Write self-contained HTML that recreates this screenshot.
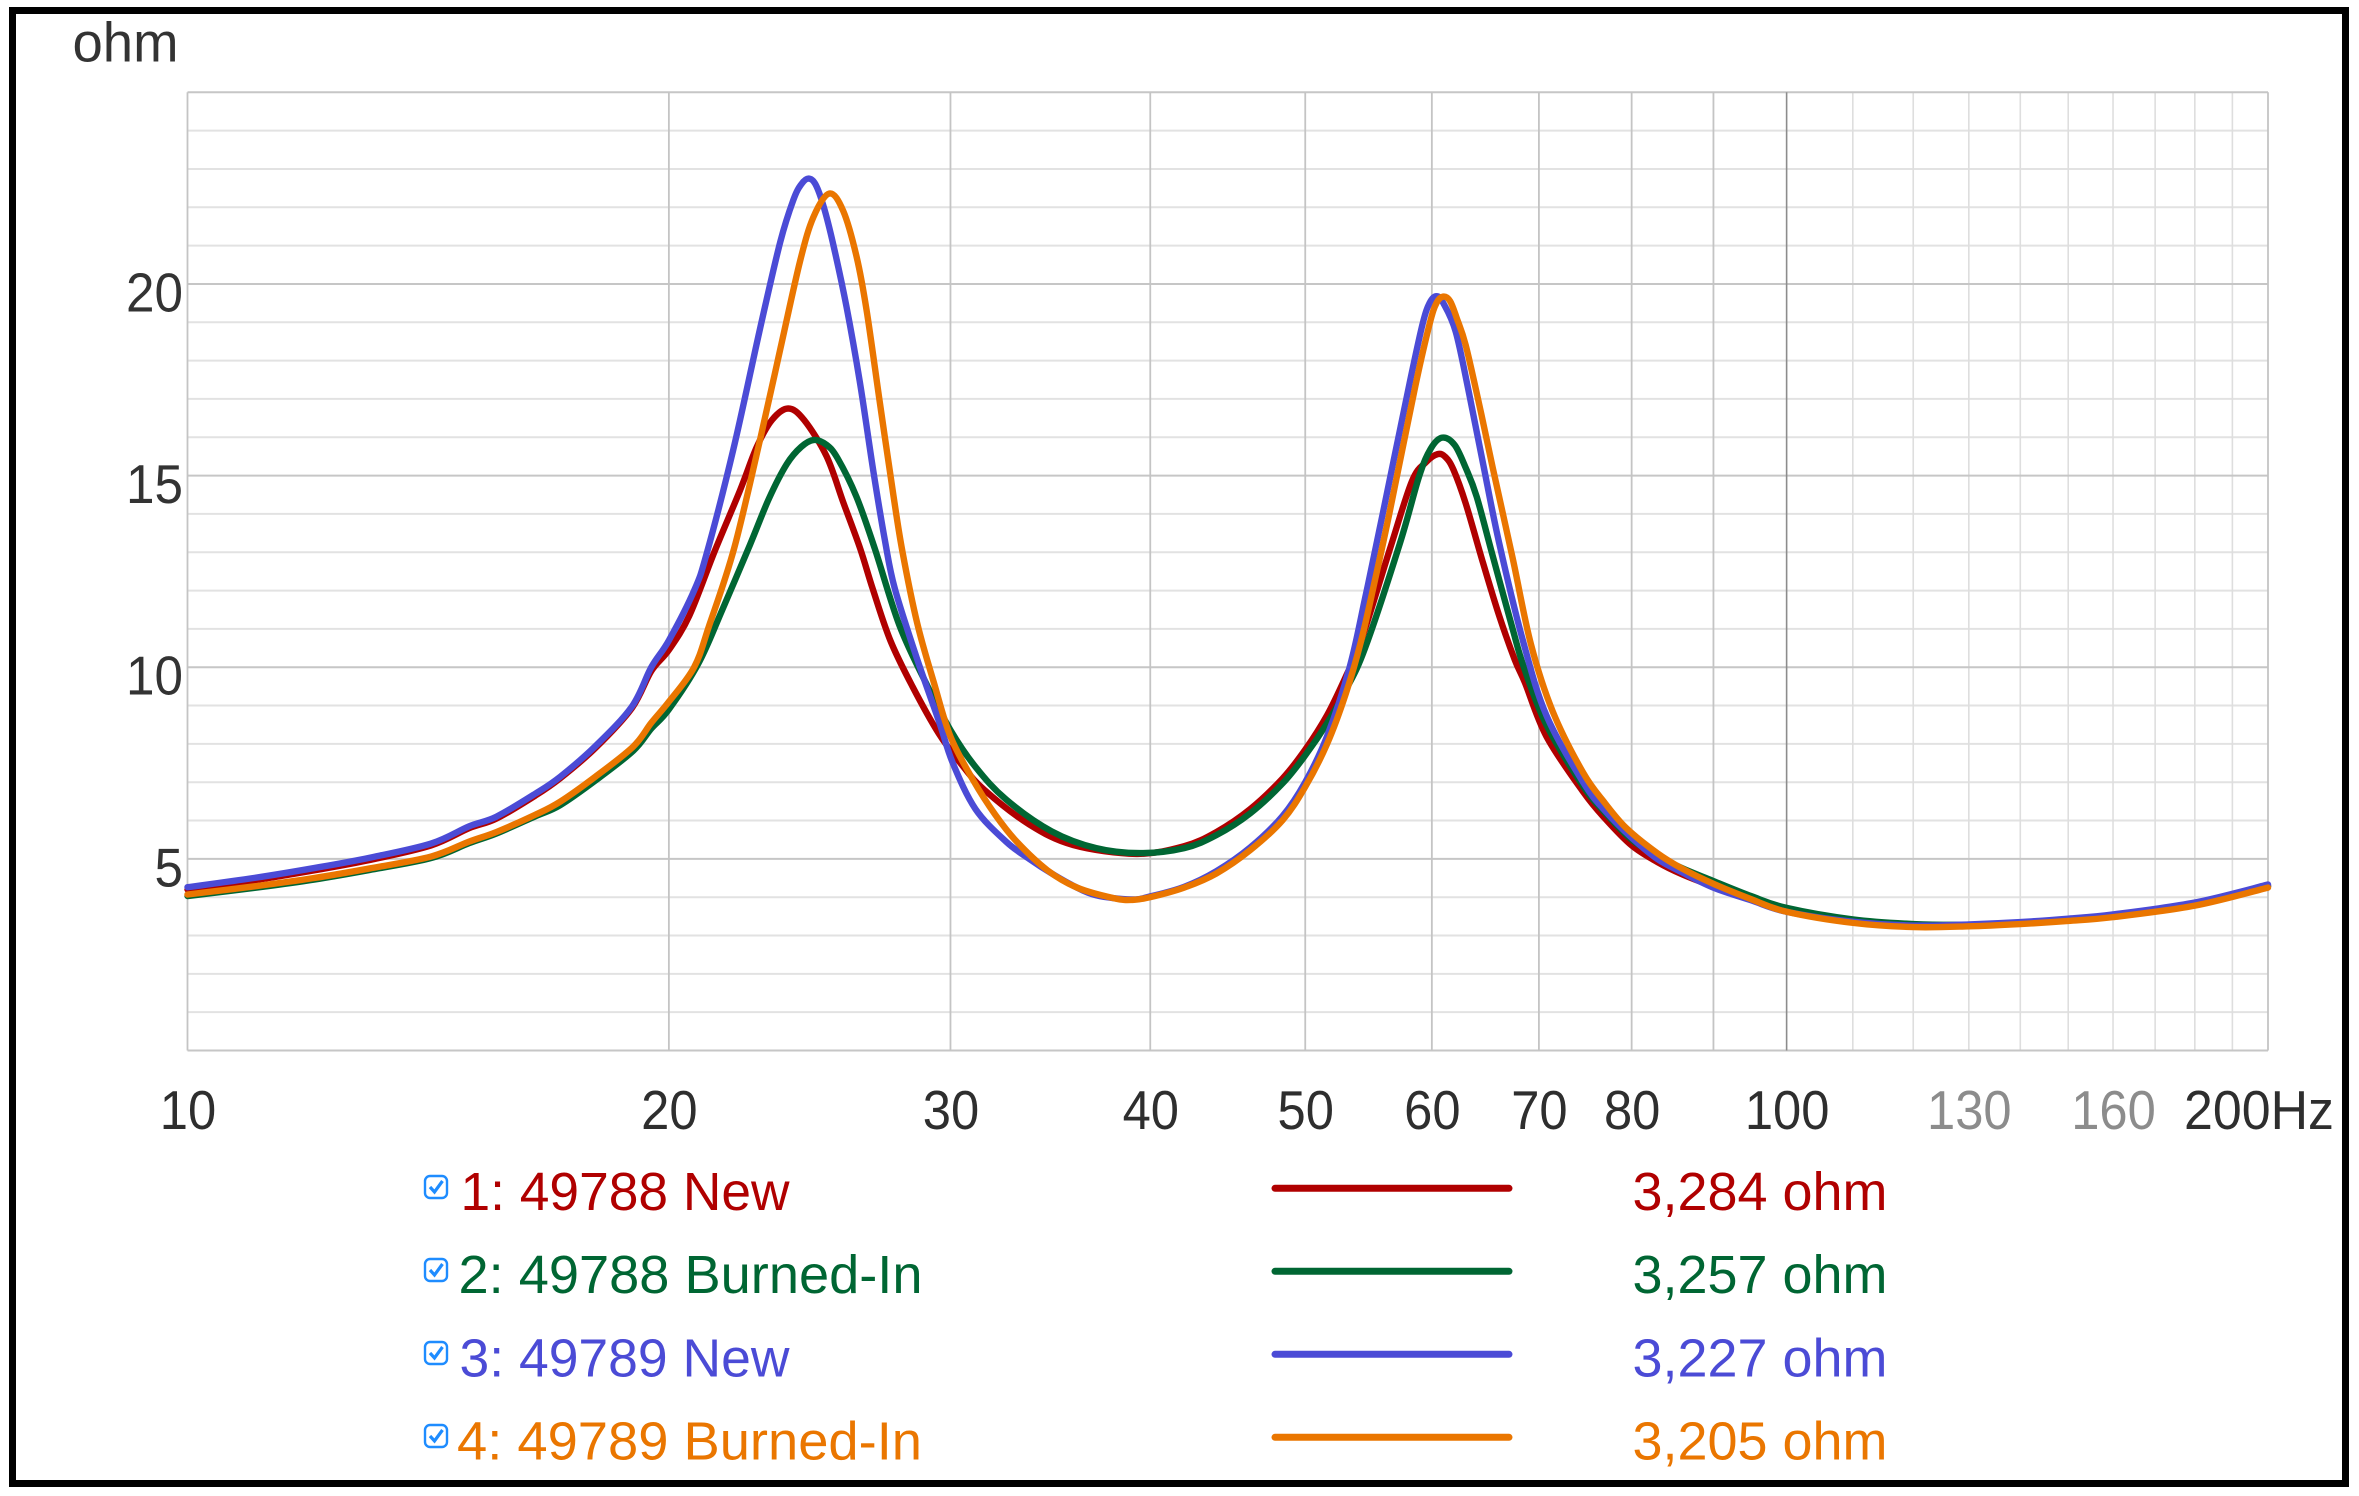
<!DOCTYPE html>
<html lang="en">
<head>
<meta charset="utf-8">
<title>Impedance chart</title>
<style>
html,body{margin:0;padding:0;background:#fff;width:2359px;height:1496px;overflow:hidden}
svg{display:block;font-family:"Liberation Sans",sans-serif}
</style>
</head>
<body>
<svg id="chart" xmlns="http://www.w3.org/2000/svg" width="2359" height="1496" viewBox="0 0 2359 1496">
  <rect x="0" y="0" width="2359" height="1496" fill="#fff"/>
  <rect x="12.5" y="10.5" width="2333" height="1473" fill="none" stroke="#000" stroke-width="7"/>
  <text x="72.5" y="61.5" font-size="56" fill="#333" textLength="106" lengthAdjust="spacingAndGlyphs">ohm</text>
  <g id="grid"></g>
  <g id="y-labels"></g>
  <g id="x-labels"></g>
  <g id="series" fill="none" stroke-width="6.4" stroke-linejoin="round" stroke-linecap="round"></g>

  <g font-size="54">
    <g>
      <g>
        <rect x="425" y="1176" width="22" height="22" rx="5" fill="#fff" stroke="#1e8cff" stroke-width="2.4"/>
        <path d="M430 1187 l4.5 5 l8 -11" fill="none" stroke="#1e8cff" stroke-width="3.2"/>
      </g>
      <text x="460.5" y="1210" fill="#b00000" textLength="329" lengthAdjust="spacingAndGlyphs">1: 49788 New</text>
      <line x1="1275" y1="1188.3" x2="1509" y2="1188.3" stroke="#b00000" stroke-width="7" stroke-linecap="round"/>
      <text x="1632.5" y="1210" fill="#b00000" textLength="255" lengthAdjust="spacingAndGlyphs">3,284 ohm</text>
    </g>
    <g>
      <g>
        <rect x="425" y="1259" width="22" height="22" rx="5" fill="#fff" stroke="#1e8cff" stroke-width="2.4"/>
        <path d="M430 1270 l4.5 5 l8 -11" fill="none" stroke="#1e8cff" stroke-width="3.2"/>
      </g>
      <text x="458.5" y="1293" fill="#006633" textLength="464" lengthAdjust="spacingAndGlyphs">2: 49788 Burned-In</text>
      <line x1="1275" y1="1271.3" x2="1509" y2="1271.3" stroke="#006633" stroke-width="7" stroke-linecap="round"/>
      <text x="1632.5" y="1293" fill="#006633" textLength="255" lengthAdjust="spacingAndGlyphs">3,257 ohm</text>
    </g>
    <g>
      <g>
        <rect x="425" y="1342" width="22" height="22" rx="5" fill="#fff" stroke="#1e8cff" stroke-width="2.4"/>
        <path d="M430 1353 l4.5 5 l8 -11" fill="none" stroke="#1e8cff" stroke-width="3.2"/>
      </g>
      <text x="459.5" y="1376.5" fill="#4b4bd6" textLength="330" lengthAdjust="spacingAndGlyphs">3: 49789 New</text>
      <line x1="1275" y1="1354.3" x2="1509" y2="1354.3" stroke="#4b4bd6" stroke-width="7" stroke-linecap="round"/>
      <text x="1632.5" y="1376.5" fill="#4b4bd6" textLength="255" lengthAdjust="spacingAndGlyphs">3,227 ohm</text>
    </g>
    <g>
      <g>
        <rect x="425" y="1425" width="22" height="22" rx="5" fill="#fff" stroke="#1e8cff" stroke-width="2.4"/>
        <path d="M430 1436 l4.5 5 l8 -11" fill="none" stroke="#1e8cff" stroke-width="3.2"/>
      </g>
      <text x="457" y="1459.3" fill="#ea7600" textLength="465" lengthAdjust="spacingAndGlyphs">4: 49789 Burned-In</text>
      <line x1="1275" y1="1437.3" x2="1509" y2="1437.3" stroke="#ea7600" stroke-width="7" stroke-linecap="round"/>
      <text x="1632.5" y="1459.3" fill="#ea7600" textLength="255" lengthAdjust="spacingAndGlyphs">3,205 ohm</text>
    </g>
  </g>
</svg>
<script>
var yMajorTicks = [0, 5, 10, 15, 20, 25];
var yMinorTicks = [1, 2, 3, 4, 6, 7, 8, 9, 11, 12, 13, 14, 16, 17, 18, 19, 21, 22, 23, 24];
var yTickLabels = [5, 10, 15, 20];
var xMajorTicks = [10, 20, 30, 40, 50, 60, 70, 80, 90];
var xDecadeTicks = [100];
var xMinorTicks = [110, 120, 130, 140, 150, 160, 170, 180, 190];
var xEndTicks = [200];
var xTickLabels = [10, 20, 30, 40, 50, 60, 70, 80, 100, 130, 160, 200];
var xMutedLabels = [130, 160];

var redFreq = [10, 11, 12, 13, 14.2, 15, 15.6, 16.5, 17.1, 18, 18.96, 19.5, 20, 20.6, 21.35, 22.16, 22.7, 23.2, 23.75, 24.3, 25.1, 25.71, 26.34, 26.82, 27.51, 28.4, 29.5, 30.5, 31.5, 33.6, 35.8, 39.2, 42, 44, 46.2, 48.4, 50, 51.6, 53, 54.2, 56.5, 58.3, 59.5, 60.5, 61.2, 61.9, 63, 64.6, 66.1, 67.6, 68.6, 70.75, 74.6, 77, 80, 83, 86, 90, 95, 100, 110, 120, 130, 140, 150, 160, 180, 200];
var redOhm = [4.2, 4.44, 4.7, 4.97, 5.35, 5.8, 6.05, 6.65, 7.1, 7.9, 8.93, 9.9, 10.45, 11.35, 13.0, 14.62, 15.75, 16.45, 16.75, 16.45, 15.5, 14.3, 13.1, 12.05, 10.7, 9.5, 8.27, 7.45, 6.8, 5.9, 5.36, 5.13, 5.33, 5.7, 6.3, 7.1, 7.85, 8.75, 9.75, 10.7, 13.1, 14.85, 15.35, 15.56, 15.48, 15.15, 14.27, 12.71, 11.35, 10.2, 9.6, 8.2, 6.75, 6.05, 5.35, 4.92, 4.6, 4.28, 3.95, 3.66, 3.4, 3.28, 3.27, 3.32, 3.41, 3.52, 3.83, 4.29];

var greenFreq = [10, 11, 12, 13, 14.2, 15, 15.6, 16.5, 17.1, 18, 19, 19.5, 20, 20.87, 21.6, 22.48, 23.1, 23.7, 24.2, 24.65, 25.1, 25.5, 26.2, 26.9, 27.87, 28.95, 30, 31.1, 32.5, 34.7, 37, 39.4, 42, 44, 46.2, 48.4, 50, 51.6, 53, 54.5, 57.3, 58.9, 59.9, 60.9, 62, 63, 64, 65.5, 67.4, 68.5, 70.75, 74.6, 77, 80, 83, 86, 90, 95, 100, 110, 120, 130, 140, 150, 160, 180, 200];
var greenOhm = [4.03, 4.24, 4.46, 4.71, 5.02, 5.41, 5.66, 6.11, 6.4, 7.05, 7.82, 8.4, 8.9, 10.1, 11.5, 13.2, 14.4, 15.3, 15.75, 15.93, 15.8, 15.45, 14.45, 13.1, 11.1, 9.6, 8.36, 7.4, 6.55, 5.72, 5.28, 5.15, 5.28, 5.62, 6.19, 6.97, 7.7, 8.54, 9.4, 10.5, 13.23, 14.97, 15.7, 15.99, 15.8, 15.2, 14.45, 12.9, 11, 10, 8.5, 6.9, 6.2, 5.5, 5.08, 4.76, 4.42, 4.03, 3.72, 3.42, 3.3, 3.28, 3.33, 3.42, 3.53, 3.83, 4.29];

var blueFreq = [10, 11, 12, 13, 14.2, 15, 15.6, 16.5, 17.1, 18, 18.96, 19.5, 20, 20.74, 21.13, 21.95, 22.81, 23.48, 23.93, 24.2, 24.45, 24.7, 25, 25.35, 25.83, 26.34, 26.85, 27.3, 27.69, 28.6, 29.5, 30.1, 31.1, 32.5, 33.6, 34.7, 35.8, 37, 38.9, 40, 42, 44, 46.2, 48.4, 50, 51.6, 53.3, 54.5, 55.9, 58.1, 59.2, 59.8, 60.4, 61, 62.1, 63.3, 64.6, 66.1, 68.4, 70.75, 74.6, 77, 80, 83, 86, 90, 95, 100, 110, 120, 130, 140, 150, 160, 180, 200];
var blueOhm = [4.26, 4.5, 4.76, 5.03, 5.4, 5.85, 6.1, 6.7, 7.14, 7.95, 8.97, 10, 10.7, 12, 13, 15.7, 18.85, 21.1, 22.2, 22.6, 22.75, 22.6, 22, 21, 19.4, 17.4, 15.1, 13.3, 12.05, 10.2, 8.6, 7.5, 6.3, 5.45, 5, 4.62, 4.3, 4.05, 3.94, 4.02, 4.27, 4.68, 5.3, 6.12, 7, 8.2, 10, 11.8, 14, 17.4, 18.95, 19.5, 19.68, 19.5, 18.75, 17.15, 15.3, 13.25, 10.7, 8.75, 7, 6.25, 5.55, 5, 4.65, 4.25, 3.92, 3.62, 3.36, 3.26, 3.29, 3.35, 3.44, 3.55, 3.86, 4.33];

var orangeFreq = [10, 11, 12, 13, 14.2, 15, 15.6, 16.5, 17.1, 18, 19, 19.5, 20, 20.74, 21.2, 21.97, 22.81, 23.48, 24.16, 24.63, 25.2, 25.71, 26.21, 26.59, 27.1, 27.63, 28, 28.6, 29.3, 30, 31, 32, 33, 34.5, 36, 38, 39, 40, 42, 44, 46.2, 48.4, 50, 51.6, 53, 54.2, 55.3, 56.4, 58.6, 59.8, 60.4, 61, 61.6, 62.2, 63, 64.2, 65.5, 67.4, 69.2, 71.4, 74.6, 77, 79.4, 83, 86, 90, 95, 100, 110, 120, 130, 140, 150, 160, 180, 200];
var orangeOhm = [4.07, 4.28, 4.5, 4.75, 5.06, 5.45, 5.7, 6.15, 6.49, 7.15, 7.93, 8.55, 9.1, 10, 11.1, 13.1, 15.95, 18.3, 20.6, 21.75, 22.36, 21.9, 20.7, 19.3, 16.9, 14.5, 13, 11.14, 9.58, 8.19, 7.05, 6.15, 5.45, 4.7, 4.25, 3.97, 3.93, 4, 4.25, 4.62, 5.23, 6.01, 6.88, 8, 9.3, 10.7, 12.3, 13.95, 17.35, 18.95, 19.5, 19.67, 19.55, 19.1, 18.4, 16.9, 15.2, 12.85, 10.6, 8.85, 7.25, 6.45, 5.8, 5.15, 4.75, 4.35, 3.95, 3.62, 3.33, 3.22, 3.24, 3.3, 3.38, 3.48, 3.78, 4.25];

var SVGNS = 'http://www.w3.org/2000/svg';
var plotLeft = 187.5, plotRight = 2268, plotTop = 92.3, plotBottom = 1050.5;

function xScale(f) {
  return plotLeft + (plotRight - plotLeft) * Math.log10(f / 10) / Math.log10(200 / 10);
}
function yScale(v) {
  return plotBottom - (plotBottom - plotTop) * v / 25;
}
function make(tag, attrs, parent) {
  var el = document.createElementNS(SVGNS, tag);
  for (var k in attrs) el.setAttribute(k, attrs[k]);
  parent.appendChild(el);
  return el;
}

var grid = document.getElementById('grid');

yMinorTicks.forEach(function (v) {
  var el = make('line', {x1: plotLeft, x2: plotRight, y1: yScale(v), y2: yScale(v), stroke: '#e2e2e2', 'stroke-width': 2}, grid);
  
  
});
xMinorTicks.forEach(function (f) {
  var el = make('line', {x1: xScale(f), x2: xScale(f), y1: plotTop, y2: plotBottom, stroke: '#dedede', 'stroke-width': 1.6}, grid);
  
  
});
yMajorTicks.forEach(function (v) {
  var el = make('line', {x1: plotLeft, x2: plotRight, y1: yScale(v), y2: yScale(v), stroke: '#c6c6c6', 'stroke-width': 2}, grid);
  
  
});
xMajorTicks.concat(xEndTicks).forEach(function (f) {
  var el = make('line', {x1: xScale(f), x2: xScale(f), y1: plotTop, y2: plotBottom, stroke: '#c4c4c4', 'stroke-width': 1.8}, grid);
  
  
});
xDecadeTicks.forEach(function (f) {
  var el = make('line', {x1: xScale(f), x2: xScale(f), y1: plotTop, y2: plotBottom, stroke: '#8c8c8c', 'stroke-width': 1.6}, grid);
  
  
});

var yLabels = document.getElementById('y-labels');
yTickLabels.forEach(function (v) {
  var s = String(v);
  var el = make('text', {x: 183, y: yScale(v) + 27.5, 'text-anchor': 'end', 'font-size': 55, fill: '#333', textLength: s.length * 28.5, lengthAdjust: 'spacingAndGlyphs'}, yLabels);
  
  
  el.textContent = s;
});

var xLabels = document.getElementById('x-labels');
xTickLabels.forEach(function (f, i) {
  var isLast = i === xTickLabels.length - 1;
  var s = isLast ? f + 'Hz' : String(f);
  var muted = xMutedLabels.indexOf(f) >= 0;
  var el = make('text', {
    x: isLast ? 2334 : xScale(f) + 0.5,
    y: 1129,
    'text-anchor': isLast ? 'end' : 'middle',
    'font-size': 55,
    fill: muted ? '#8c8c8c' : '#2e2e2e',
    textLength: isLast ? 150 : s.length * 28.2,
    lengthAdjust: 'spacingAndGlyphs'
  }, xLabels);
  
  
  el.textContent = s;
});

function smoothPath(freqs, ohms) {
  var p = freqs.map(function (f, i) { return [xScale(f), yScale(ohms[i])]; });
  var d = 'M' + p[0][0].toFixed(2) + ' ' + p[0][1].toFixed(2);
  for (var i = 0; i < p.length - 1; i++) {
    var p0 = p[Math.max(0, i - 1)], p1 = p[i], p2 = p[i + 1], p3 = p[Math.min(p.length - 1, i + 2)];
    var c1x = p1[0] + (p2[0] - p0[0]) / 6, c1y = p1[1] + (p2[1] - p0[1]) / 6;
    var c2x = p2[0] - (p3[0] - p1[0]) / 6, c2y = p2[1] - (p3[1] - p1[1]) / 6;
    d += 'C' + c1x.toFixed(2) + ' ' + c1y.toFixed(2) + ' ' + c2x.toFixed(2) + ' ' + c2y.toFixed(2) + ' ' + p2[0].toFixed(2) + ' ' + p2[1].toFixed(2);
  }
  return d;
}

var seriesGroup = document.getElementById('series');

var redLine = make('path', {d: smoothPath(redFreq, redOhm), stroke: '#b00000'}, seriesGroup);



var greenLine = make('path', {d: smoothPath(greenFreq, greenOhm), stroke: '#006633'}, seriesGroup);



var blueLine = make('path', {d: smoothPath(blueFreq, blueOhm), stroke: '#4b4bd6'}, seriesGroup);



var orangeLine = make('path', {d: smoothPath(orangeFreq, orangeOhm), stroke: '#ea7600'}, seriesGroup);


</script>
</body>
</html>
